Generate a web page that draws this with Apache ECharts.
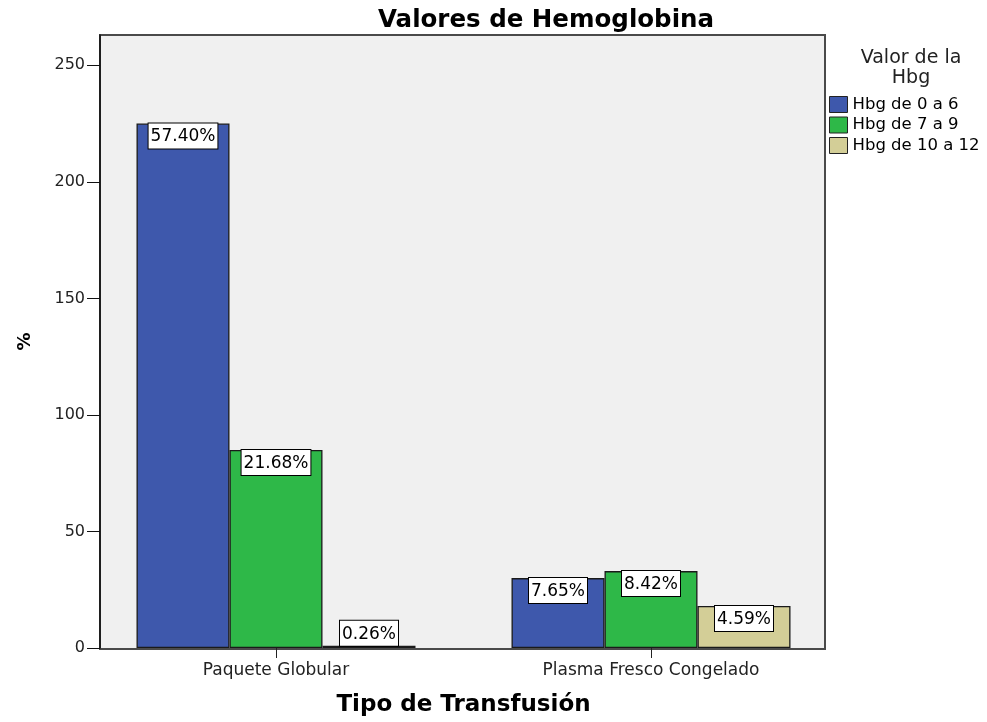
<!DOCTYPE html>
<html>
<head>
<meta charset="utf-8">
<script src="https://cdn.jsdelivr.net/npm/echarts@6/dist/echarts.min.js"></script>
<style>
  html, body { margin: 0; padding: 0; background: #fff; }
  #chart { width: 987px; height: 722px; }
</style>
</head>
<body>
<div id="chart"></div>
<script>
// datos
var categories = ["Paquete Globular", "Plasma Fresco Congelado"];
var seriesNames = ["Hbg de 0 a 6", "Hbg de 7 a 9", "Hbg de 10 a 12"];
var hbg0a6 = [225, 30];
var hbg7a9 = [85, 33];
var hbg10a12 = [1, 18];
var pct0a6 = ["57.40%", "7.65%"];
var pct7a9 = ["21.68%", "8.42%"];
var pct10a12 = ["0.26%", "4.59%"];
var yTicks = [0, 50, 100, 150, 200, 250];

var colors = ["#3e58ac", "#2eb848", "#d3ce97"];
var font = "DejaVu Sans";

function makeSeries(name, values, labels, color) {
  return {
    name: name,
    type: "bar",
    barWidth: 93,
    barGap: "0%",
    itemStyle: { color: color, borderColor: "#1a1a1a", borderWidth: 1.3 },
    data: values.map(function (v, i) {
      return {
        value: v,
        label: { position: v < 12 ? "top" : "insideTop" }
      };
    }),
    label: {
      show: true,
      distance: 0,
      formatter: function (p) { return labels[p.dataIndex]; },
      color: "#000",
      fontFamily: font,
      fontSize: 17,
      backgroundColor: "#fff",
      borderColor: "#000",
      borderWidth: 1,
      padding: [5, 2, 3, 2]
    }
  };
}

var chart = echarts.init(document.getElementById("chart"));
chart.setOption({
  backgroundColor: "#fff",
  animation: false,
  title: [
    {
      text: "Valores de Hemoglobina",
      left: 541,
      top: 3,
      textAlign: "center",
      textStyle: { fontFamily: font, fontWeight: "bold", fontSize: 24.5, color: "#000" }
    },
    {
      text: "Valor de la\nHbg",
      left: 906,
      top: 43,
      textAlign: "center",
      textStyle: { fontFamily: font, fontWeight: "normal", fontSize: 19, lineHeight: 20, color: "#222" }
    }
  ],
  legend: {
    orient: "vertical",
    left: 829,
    top: 96,
    padding: 0,
    itemWidth: 18,
    itemHeight: 16,
    itemGap: 3.5,
    icon: "rect",
    itemStyle: { borderColor: "#222", borderWidth: 1 },
    textStyle: { fontFamily: font, fontSize: 16.5, color: "#000", lineHeight: 16 },
    data: seriesNames
  },
  graphic: [
    {
      type: "rect",
      z: -1,
      shape: { x: 100, y: 35, width: 725, height: 614 },
      style: { fill: "#f0f0f0", stroke: "#4a4a4a", lineWidth: 2 }
    }
  ],
  grid: { left: 88.5, top: 35, width: 750, height: 614 },
  xAxis: {
    type: "category",
    data: categories,
    name: "Tipo de Transfusión",
    nameLocation: "middle",
    nameGap: 46,
    nameTextStyle: { fontFamily: font, fontWeight: "bold", fontSize: 23, color: "#000" },
    axisLine: { show: false },
    axisTick: { show: true, alignWithLabel: true, length: 10, lineStyle: { color: "#222" } },
    axisLabel: { fontFamily: font, fontSize: 17, color: "#222", margin: 14 }
  },
  yAxis: {
    type: "value",
    min: 0,
    max: 263,
    interval: 50,
    offset: -11.5,
    name: "%",
    nameLocation: "middle",
    nameRotate: 90,
    nameGap: 66,
    nameTextStyle: { fontFamily: font, fontWeight: "bold", fontSize: 18, color: "#000" },
    splitLine: { show: false },
    axisLine: { show: true, lineStyle: { color: "#111", width: 1.5 } },
    axisTick: { show: true, length: 13, customValues: yTicks, lineStyle: { color: "#111" } },
    axisLabel: { fontFamily: font, fontSize: 16, color: "#222", margin: 15, customValues: yTicks }
  },
  series: [
    makeSeries(seriesNames[0], hbg0a6, pct0a6, colors[0]),
    makeSeries(seriesNames[1], hbg7a9, pct7a9, colors[1]),
    makeSeries(seriesNames[2], hbg10a12, pct10a12, colors[2])
  ]
});
</script>
</body>
</html>
